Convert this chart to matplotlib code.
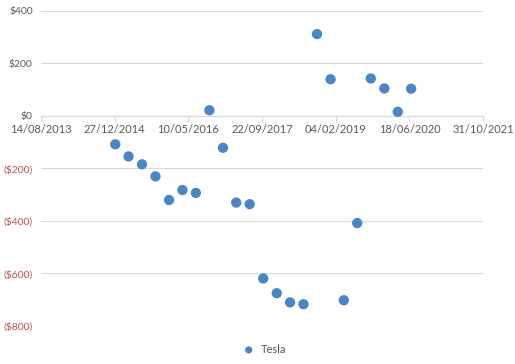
import datetime as dt
import matplotlib
matplotlib.use("Agg")
import matplotlib.pyplot as plt
import matplotlib.dates as mdates

# Quarterly net income (millions of $)
quarter_ends = [
    "2014-12-31", "2015-03-31", "2015-06-30", "2015-09-30", "2015-12-31",
    "2016-03-31", "2016-06-30", "2016-09-30", "2016-12-31", "2017-03-31",
    "2017-06-30", "2017-09-30", "2017-12-31", "2018-03-31", "2018-06-30",
    "2018-09-30", "2018-12-31", "2019-03-31", "2019-06-30", "2019-09-30",
    "2019-12-31", "2020-03-31", "2020-06-30",
]
net_income = [
    -108, -154, -184, -230, -320,
    -282, -293, 22, -121, -330,
    -336, -619, -675, -710, -717,
    312, 140, -702, -408, 143,
    105, 16, 104,
]
series_name = "Tesla"

# x-axis ticks as Excel shows them: every 500 days from 14/08/2013
x_start = dt.date(2013, 8, 14)
x_step_days = 500
n_x_ticks = 7
y_ticks = [-800, -600, -400, -200, 0, 200, 400]

dates = [dt.datetime.strptime(d, "%Y-%m-%d") for d in quarter_ends]
x_ticks = [x_start + dt.timedelta(days=i * x_step_days) for i in range(n_x_ticks)]

plt.rcParams["font.family"] = ["Lato", "DejaVu Sans"]

fig = plt.figure(figsize=(5.15, 3.64), dpi=100)
ax = fig.add_axes([0.0796, 0.1044, 0.8584, 0.8654])

grid_color = "#D9D9D9"
label_gray = "#595959"
neg_red = "#C0504D"

ax.scatter(dates, net_income, s=55, color="#4A86C6", edgecolors="none",
           zorder=3, label=series_name)

ax.set_xlim(x_ticks[0], x_ticks[-1])
ax.set_ylim(y_ticks[0], y_ticks[-1])

# horizontal gridlines
ax.set_yticks(y_ticks)
ax.yaxis.grid(True, color=grid_color, linewidth=0.8)
ax.set_axisbelow(True)

def money(v):
    return f"(${abs(v):.0f})" if v < 0 else f"${v:.0f}"

ax.set_yticklabels([money(v) for v in y_ticks], fontsize=7.5)
for lbl, v in zip(ax.get_yticklabels(), y_ticks):
    lbl.set_color(neg_red if v < 0 else label_gray)
ax.tick_params(axis="y", length=0, pad=6)

# date axis crosses at y = 0
for side in ["left", "right", "top"]:
    ax.spines[side].set_visible(False)
ax.spines["bottom"].set_position(("data", 0))
ax.spines["bottom"].set_color(grid_color)
ax.spines["bottom"].set_linewidth(0.8)
ax.set_xticks(x_ticks)
ax.xaxis.set_major_formatter(mdates.DateFormatter("%d/%m/%Y"))
ax.tick_params(axis="x", colors=grid_color, length=4, width=0.8, labelsize=8,
               labelcolor=label_gray, pad=2)

ax.legend(loc="upper center", bbox_to_anchor=(0.5, -0.025), frameon=False,
          fontsize=8, handletextpad=0.1, markerscale=0.7, labelcolor=label_gray)

fig.savefig("out.png", dpi=100)
